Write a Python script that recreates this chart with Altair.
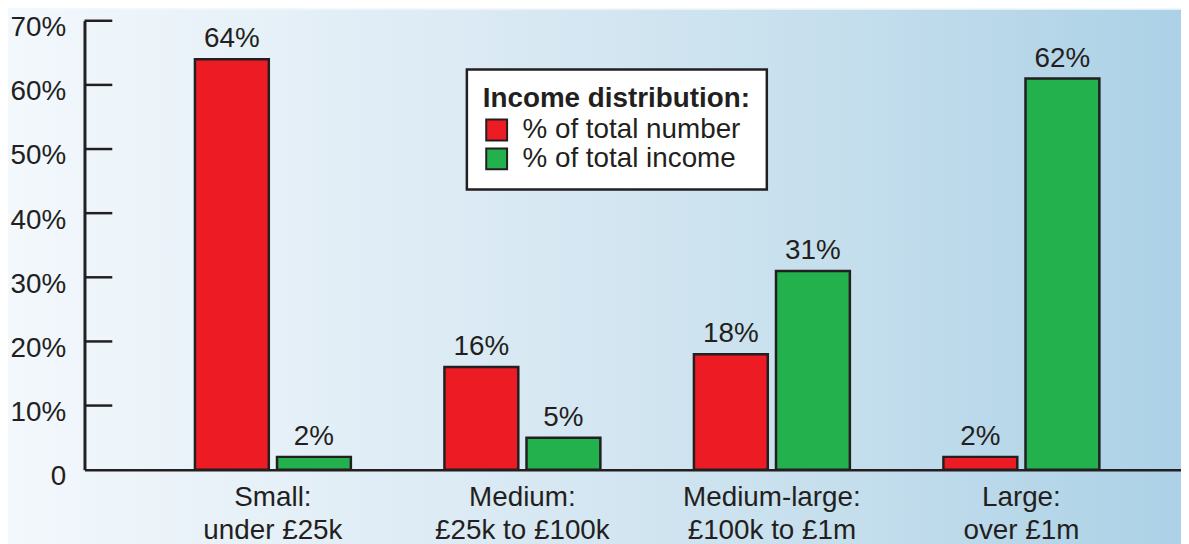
import altair as alt
import pandas as pd

# ---- data ----
categories = ["Small:\nunder £25k", "Medium:\n£25k to £100k",
              "Medium-large:\n£100k to £1m", "Large:\nover £1m"]
series_names = ["% of total number", "% of total income"]
pct_total_number = [64, 16, 18, 2]
pct_total_income = [2, 5, 31, 61]
labels_total_number = ["64%", "16%", "18%", "2%"]
labels_total_income = ["2%", "5%", "31%", "62%"]
y_ticks = [0, 10, 20, 30, 40, 50, 60, 70]
series_colors = ["#ed1c24", "#22b14c"]

rows = []
for i, c in enumerate(categories):
    rows.append(dict(category=c, series=series_names[0],
                     value=pct_total_number[i], label=labels_total_number[i]))
    rows.append(dict(category=c, series=series_names[1],
                     value=pct_total_income[i], label=labels_total_income[i]))
df = pd.DataFrame(rows)
tick_df = pd.DataFrame({"tick": y_ticks[1:]})

W, H = 1104, 452
PAD_L, PAD_T, PAD_B = 77, 11, 80
FONT = "Liberation Sans"
INK = "#231f20"
FS = 28

x_scale = alt.Scale(domain=categories, paddingInner=0.375, paddingOuter=0.385,
                    align=0.575, round=False)
xo_scale = alt.Scale(domain=series_names, paddingInner=0.1, paddingOuter=0, round=False)
y_scale = alt.Scale(domain=[0, 70], nice=False, zero=True)

x_axis = alt.Axis(
    title=None, labelExpr="split(datum.value, '\\n')", labelAngle=0, ticks=False,
    domainColor=INK, domainWidth=2.5, labelFont=FONT, labelFontSize=FS,
    labelColor=INK, labelPadding=14, labelLineHeight=33, labelLimit=400,
    labelBaseline="top", zindex=1,
)
y_axis = alt.Axis(
    title=None, values=y_ticks,
    labelExpr="datum.value == 0 ? '0' : datum.value + '%'",
    ticks=False, tickSize=0, domainColor=INK, domainWidth=3, grid=False,
    labelFont=FONT, labelFontSize=FS, labelColor=INK, labelPadding=19, labelOffset=7,
    zindex=1,
)

bg = alt.Chart(pd.DataFrame({"a": [0]})).mark_rect(
    fill=alt.Gradient(
        gradient="linear",
        stops=[
            alt.GradientStop(color="#f3f8fc", offset=0),
            alt.GradientStop(color="#dbeaf4", offset=0.4),
            alt.GradientStop(color="#c6dfed", offset=0.7),
            alt.GradientStop(color="#acd1e6", offset=1),
        ],
        x1=0, x2=1, y1=0, y2=0,
    )
).encode(
    x=alt.value(-PAD_L), x2=alt.value(W), y=alt.value(-PAD_T), y2=alt.value(H + PAD_B)
)

rules = alt.Chart(tick_df).mark_rule(color=INK, strokeWidth=2.5).encode(
    y=alt.Y("tick:Q", scale=y_scale, axis=y_axis),
    x=alt.value(0),
    x2=alt.value(28),
)

bars = alt.Chart(df).mark_bar(stroke=INK, strokeWidth=2.5).encode(
    x=alt.X("category:N", scale=x_scale, axis=x_axis),
    xOffset=alt.XOffset("series:N", scale=xo_scale),
    y=alt.Y("value:Q", scale=y_scale, axis=y_axis),
    color=alt.Color(
        "series:N",
        scale=alt.Scale(domain=series_names, range=series_colors),
        legend=alt.Legend(
            title="Income distribution:", orient="none", legendX=385, legendY=49,
            direction="vertical", symbolType="square", symbolSize=441,
            symbolStrokeColor=INK, symbolStrokeWidth=2, symbolOpacity=1,
            labelFont=FONT, labelFontSize=FS, labelColor=INK, labelOffset=12,
            titleFont=FONT, titleFontSize=FS, titleFontWeight="bold", titleColor=INK,
            titlePadding=3, padding=16, fillColor="white", strokeColor=INK,
            rowPadding=-3, labelLimit=400, titleLimit=600,
        ),
    ),
)

texts = alt.Chart(df).mark_text(
    font=FONT, fontSize=FS, color=INK, baseline="alphabetic", dy=-12
).encode(
    x=alt.X("category:N", scale=x_scale, axis=x_axis),
    xOffset=alt.XOffset("series:N", scale=xo_scale),
    y=alt.Y("value:Q", scale=y_scale, axis=y_axis),
    text="label:N",
)

chart = alt.layer(bg, rules, bars, texts).properties(
    width=W, height=H,
    padding={"left": PAD_L, "top": PAD_T, "right": 0, "bottom": PAD_B},
    autosize=alt.AutoSizeParams(type="none"),
).configure_view(stroke=None).configure(background="#f3f8fc").configure_legend(strokeWidth=2.5)

chart.save("out.html", embed_options={"renderer": "svg", "actions": False})
